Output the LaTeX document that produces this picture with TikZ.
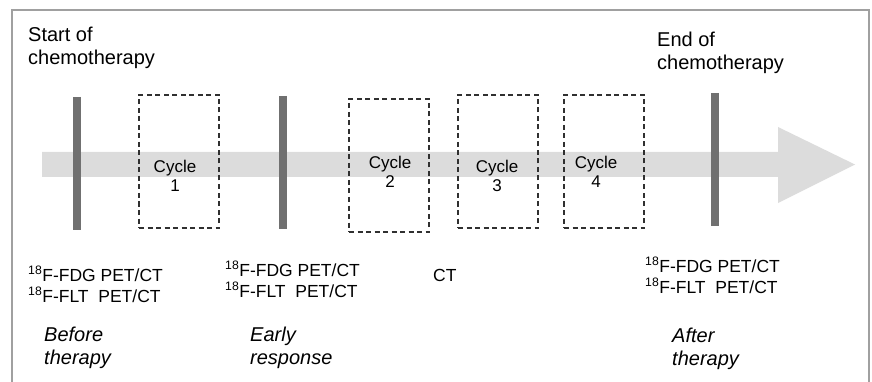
\documentclass[tikz,border=0pt]{standalone}
\usepackage{fontspec}
\setmainfont{Liberation Sans}
\definecolor{framegray}{HTML}{A0A0A0}
\definecolor{arrowgray}{HTML}{DCDCDC}
\definecolor{bargray}{HTML}{707070}
\definecolor{dashgray}{HTML}{303030}
\begin{document}
\begin{tikzpicture}[x=1pt,y=-1pt,
  bigtxt/.style={inner sep=0pt,anchor=base west,align=left,font=\fontsize{20}{23.5}\selectfont},
  scantxt/.style={inner sep=0pt,anchor=base west,align=left,font=\fontsize{17.5}{21}\selectfont},
  phasetxt/.style={inner sep=0pt,anchor=base west,align=left,font=\fontsize{20}{22.5}\selectfont\itshape},
  cycletxt/.style={inner sep=0pt,anchor=base,align=center,font=\fontsize{17}{20}\selectfont},
  cyclebox/.style={draw=dashgray,line width=1.2pt,dash pattern=on 5pt off 3.5pt,minimum width=80pt,inner sep=0pt},
  timebar/.style={draw=bargray,line width=8pt}]
\useasboundingbox (0,0) rectangle (872,382);
% frame
\draw[framegray,line width=1.4pt] (12,400) -- (12,10) -- (869,10) -- (869,400);
% timeline arrow
\fill[arrowgray] (42,152) -- (778,152) -- (778,127) -- (855,164.5) -- (778,203) -- (778,177) -- (42,177) -- cycle;
% cycle boxes
\node[cyclebox,minimum height=133pt] (b1) at (179,161.5) {};
\node[cyclebox,minimum height=133pt] (b2) at (389,165.5) {};
\node[cyclebox,minimum height=133pt] (b3) at (498,161.5) {};
\node[cyclebox,minimum height=133pt] (b4) at (604,161.5) {};
\node[cycletxt] (t1) at (175,192) {Cycle\\1};
\node[cycletxt] (t2) at (390,188) {Cycle\\2};
\node[cycletxt] (t3) at (497,192) {Cycle\\3};
\node[cycletxt] (t4) at (596,188) {Cycle\\4};
% time points
\draw[timebar] (77,97) -- (77,230);
\draw[timebar] (283,96) -- (283,229);
\draw[timebar] (715,93) -- (715,226);
% labels
\node[bigtxt] (start) at (28,65) {Start of\\chemotherapy};
\node[bigtxt] (end) at (657,70) {End of\\chemotherapy};
\node[scantxt] (s1) at (28,302) {\textsuperscript{18}F-FDG PET/CT\\\textsuperscript{18}F-FLT\ \ PET/CT};
\node[scantxt] (s2) at (225,297) {\textsuperscript{18}F-FDG PET/CT\\\textsuperscript{18}F-FLT\ \ PET/CT};
\node[scantxt] (ct) at (433,281) {CT};
\node[scantxt] (s3) at (645,293) {\textsuperscript{18}F-FDG PET/CT\\\textsuperscript{18}F-FLT\ \ PET/CT};
\node[phasetxt] (p1) at (44,364) {Before\\therapy};
\node[phasetxt] (p2) at (250,364) {Early\\response};
\node[phasetxt] (p3) at (672,365) {After\\therapy};
\end{tikzpicture}
\end{document}
